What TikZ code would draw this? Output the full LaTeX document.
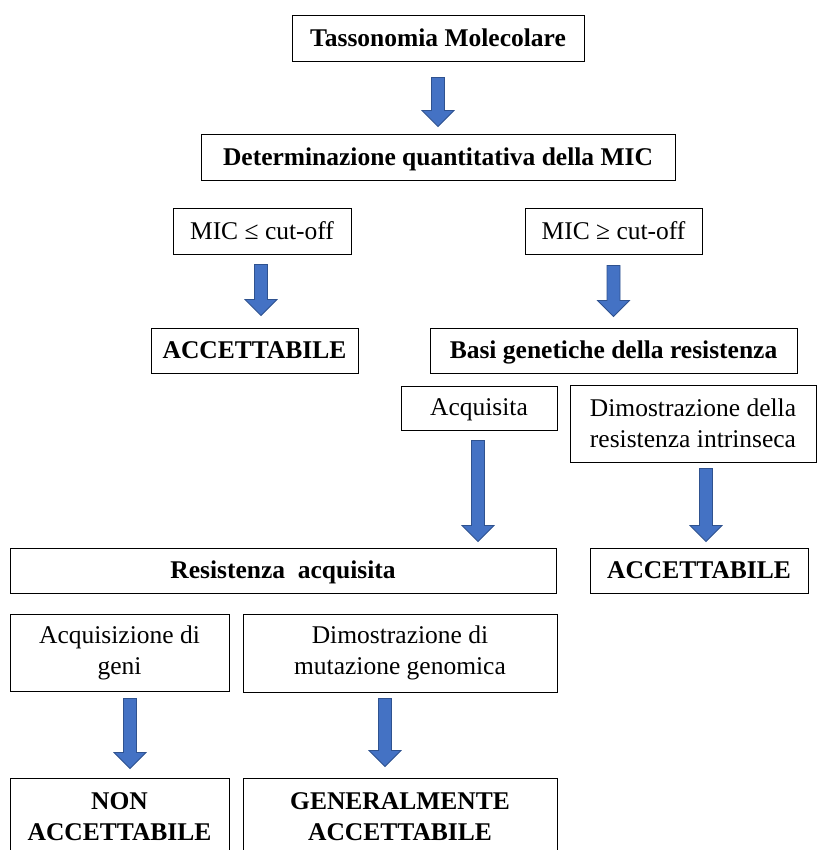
\documentclass[tikz,border=0pt]{standalone}
\usepackage{fontspec}
\setmainfont{Liberation Serif}
\usetikzlibrary{calc}
\definecolor{arrowfill}{HTML}{4472C4}
\definecolor{arrowedge}{HTML}{2F528F}
\newcommand\boxfont{\fontsize{25.5pt}{31pt}\selectfont}
\newcommand\blockarrow[2]{%
  \path[barrowstyle] let \p1=(#1), \p2=(#2) in
    ({\x1-6.5pt},\y1) -- ({\x1+6.5pt},\y1) -- ({\x1+6.5pt},{\y2+16pt}) --
    ({\x1+16pt},{\y2+16pt}) -- (\x1,\y2) -- ({\x1-16pt},{\y2+16pt}) --
    ({\x1-6.5pt},{\y2+16pt}) -- cycle;}
\tikzset{
  box/.style={draw=black, line width=1pt, inner sep=0pt, align=center, font=\boxfont},
  bbox/.style={box, font=\boxfont\bfseries},
  oneline/.style={text height=18pt, text depth=2.5pt},
  barrowstyle/.style={fill=arrowfill, draw=arrowedge, line width=0.8pt, line join=miter}
}
\begin{document}
\begin{tikzpicture}[x=1pt,y=1pt]
\useasboundingbox (0,0) rectangle (818,-850);
\clip (0,0) rectangle (818,-850);
\fill[white] (0,0) rectangle (818,-850);

\node[bbox, oneline, minimum width=292pt, minimum height=46pt] (tass) at (438,-39) {Tassonomia Molecolare};
\node[bbox, oneline, minimum width=474pt, minimum height=46pt] (det) at (438,-158) {Determinazione quantitativa della MIC};
\node[box, oneline, minimum width=178pt, minimum height=45pt] (micle) at (262,-231.5) {MIC ≤ cut-off};
\node[box, oneline, minimum width=177pt, minimum height=45pt] (micge) at (613.5,-231.5) {MIC ≥ cut-off};
\node[bbox, oneline, minimum width=207pt, minimum height=45pt] (acc1) at (254.5,-350.5) {ACCETTABILE};
\node[bbox, oneline, minimum width=367pt, minimum height=45pt] (basi) at (613.5,-350.5) {Basi genetiche della resistenza};
\node[box, oneline, minimum width=156pt, minimum height=44pt] (acq) at (479,-408) {Acquisita};
\node[box, minimum width=246pt, minimum height=77pt] (intr) at (693,-423.5) {Dimostrazione della\\resistenza intrinseca};
\node[bbox, oneline, minimum width=546pt, minimum height=45pt] (resacq) at (283,-570.5) {Resistenza~~acquisita};
\node[bbox, oneline, minimum width=218pt, minimum height=45pt] (acc2) at (699,-570.5) {ACCETTABILE};
\node[box, minimum width=219pt, minimum height=77pt] (geni) at (119.5,-652.5) {Acquisizione di\\geni};
\node[box, minimum width=314pt, minimum height=78pt] (mut) at (400,-653) {Dimostrazione di\\mutazione genomica};
\node[bbox, minimum width=219pt, minimum height=78pt] (non) at (119.5,-817) {NON\\ACCETTABILE};
\node[bbox, minimum width=314pt, minimum height=78pt] (gen) at (400,-817) {GENERALMENTE\\ACCETTABILE};

\blockarrow{[yshift=-15pt]tass.south}{[yshift=8pt]det.north}
\blockarrow{[xshift=-1pt,yshift=-10pt]micle.south}{[yshift=12pt]acc1.north}
\blockarrow{[yshift=-11pt]micge.south}{[yshift=11pt]basi.north}
\blockarrow{[xshift=-1pt,yshift=-10pt]acq.south}{[yshift=6pt]resacq.north}
\blockarrow{[xshift=13pt,yshift=-6pt]intr.south}{[yshift=6pt]acc2.north}
\blockarrow{[xshift=10.5pt,yshift=-7pt]geni.south}{[yshift=9pt]non.north}
\blockarrow{[xshift=-15pt,yshift=-6pt]mut.south}{[yshift=11pt]gen.north}
\end{tikzpicture}
\end{document}
